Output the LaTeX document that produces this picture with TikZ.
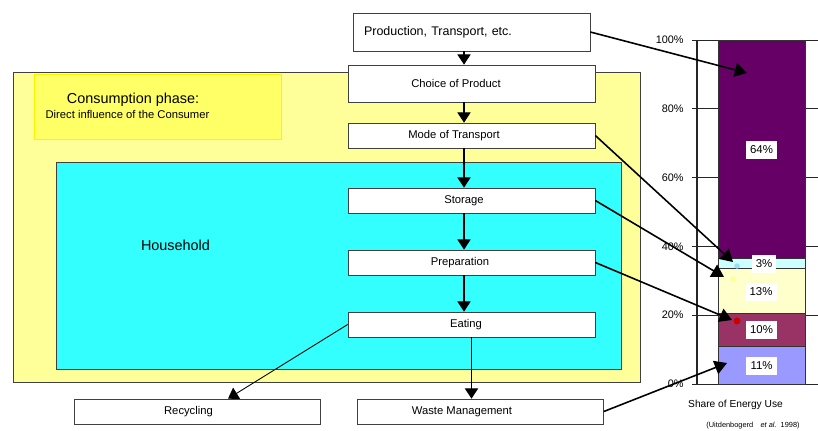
\documentclass[tikz,border=0pt]{standalone}
\usepackage{fontspec}
\setmainfont{Liberation Sans}
\usetikzlibrary{arrows.meta}
\definecolor{phasefill}{HTML}{FFFF99}
\definecolor{phasetag}{HTML}{FFFF66}
\definecolor{housefill}{HTML}{33FFFF}
\definecolor{segprod}{HTML}{660066}
\definecolor{segtrans}{HTML}{CCFFFF}
\definecolor{segstore}{HTML}{FFFFCC}
\definecolor{segprep}{HTML}{993366}
\definecolor{segwaste}{HTML}{9999FF}
\tikzset{%
  stage/.style    = {shape=rectangle, draw=black!75, fill=white,%
                     minimum width=4.94cm, minimum height=0.5cm,%
                     inner sep=0pt, font=\fontsize{6.4}{7.5}\selectfont},%
  nudge/.style    = {execute at begin node={\hspace*{#1}}},%
  flow/.style     = {-{Triangle[width=7.5pt,length=5.8pt]}, line width=0.6pt},%
  share/.style    = {-{Triangle[width=8pt,length=7pt]}, line width=0.9pt},%
  pct/.style      = {fill=white, inner sep=0pt, minimum width=0.62cm,%
                     minimum height=0.36cm, font=\fontsize{6.5}{7.5}\selectfont},%
  ticklabel/.style= {anchor=east, inner sep=0pt, font=\fontsize{6.2}{7}\selectfont},%
  segment/.style  = {draw=black!80, line width=0.5pt},%
  marker/.style   = {circle, inner sep=0pt, minimum size=0.11cm}%
}

\begin{document}
\begin{tikzpicture}[x=0.02cm,y=-0.02cm]
	\useasboundingbox (0,0) rectangle (818,430);
	\draw [fill=phasefill, draw=black!75, line width=0.5pt] (13,72) rectangle (640,382);
	\draw [fill=phasetag, draw=yellow, line width=0.4pt] (34,74) rectangle (281,139);
	\node (phasetitle) at (133,100) {\fontsize{8.2}{9}\selectfont Consumption phase:};
	\node (phasesub) at (127.5,114) {\fontsize{6.4}{7}\selectfont Direct influence of the Consumer};
	\draw [fill=housefill, draw=black!75, line width=0.5pt] (56,162) rectangle (621,369);
	\node (household) at (175.5,245) {\fontsize{8.2}{9}\selectfont Household};

	\node [stage, minimum width=4.74cm, minimum height=0.76cm, text width=4.3cm, inner xsep=0.22cm,%
		align=left, font=\fontsize{7.1}{8}\selectfont] (prod) at (471.5,32) {Production, Transport, etc.};
	\node [stage, minimum height=0.74cm, nudge=-0.62cm] (choice) at (471.5,83.5) {Choice of Product};
	\node [stage, nudge=-0.7cm] (mode) at (471.5,135.5) {Mode of Transport};
	\node [stage, nudge=-0.3cm] (storage) at (471.5,200.5) {Storage};
	\node [stage, nudge=-0.46cm] (prep) at (471.5,262.5) {Preparation};
	\node [stage, nudge=-0.22cm] (eat) at (471.5,324.5) {Eating};
	\node [stage, minimum width=4.92cm, nudge=-0.34cm] (recyc) at (197,411.5) {Recycling};
	\node [stage, minimum width=4.92cm, nudge=-0.74cm] (waste) at (480.5,411.5) {Waste Management};

	\foreach \a/\b in {prod/choice, choice/mode, mode/storage, storage/prep, prep/eat}
		\draw [flow] ([xshift=-0.15cm]\a.south) -- ([xshift=-0.15cm]\b.north);
	\draw [flow] (eat.south) -- (eat.south |- waste.north);
	\draw [flow, line width=0.5pt] (eat.west) -- ([xshift=0.62cm]recyc.north);

	% energy share bar
	\foreach \p in {0,20,...,100}{
		\draw [black!85, line width=0.5pt] (692,{384-3.44*\p}) -- (818,{384-3.44*\p});
		\node [ticklabel] (tick\p) at (684,{384-3.44*\p}) {\p\%};
	}
	\draw [black!85, line width=0.6pt] (697,40) -- (697,384);
	\filldraw [segment, fill=segwaste] (718,384) rectangle (805,346.2);
	\filldraw [segment, fill=segprep] (718,346.2) rectangle (805,313.4);
	\filldraw [segment, fill=segstore] (718,313.4) rectangle (805,268.7);
	\filldraw [segment, fill=segtrans] (718,268.7) rectangle (805,258.4);
	\filldraw [segment, fill=segprod] (718,258.4) rectangle (805,40);
	\node [pct] (pprod) at (761.5,150) {64\%};
	\node [pct, minimum width=0.48cm] (ptrans) at (764,264) {3\%};
	\node [pct] (pstore) at (761,291.5) {13\%};
	\node [pct] (pprep) at (761.5,330) {10\%};
	\node [pct] (pwaste) at (761.5,366) {11\%};
	\node [marker, fill=cyan!40] (dtrans) at (737,266) {};
	\node [marker, fill=phasefill] (dstore) at (733,279) {};
	\node [marker, fill=red!80!black, minimum size=0.14cm] (dprep) at (737,321) {};
	\node (sharetitle) at (735.5,405) {\fontsize{5.8}{7}\selectfont Share of Energy Use};
	\node [inner sep=0pt] (source) at (753,426) {\fontsize{4.2}{5}\selectfont (Uitdenbogerd\quad \textit{et al.}\ \ 1998)};

	\coordinate (tprod) at (747,73);
	\coordinate (ttrans) at (733,262);
	\coordinate (tstore) at (724,277);
	\coordinate (tprep) at (732,320);
	\coordinate (twaste) at (727,363);
	\draw [share] (prod.east) -- (tprod);
	\draw [share] (mode.east) -- (ttrans);
	\draw [share] (storage.east) -- (tstore);
	\draw [share] (prep.east) -- (tprep);
	\draw [share] (waste.east) -- (twaste);
\end{tikzpicture}
\end{document}
